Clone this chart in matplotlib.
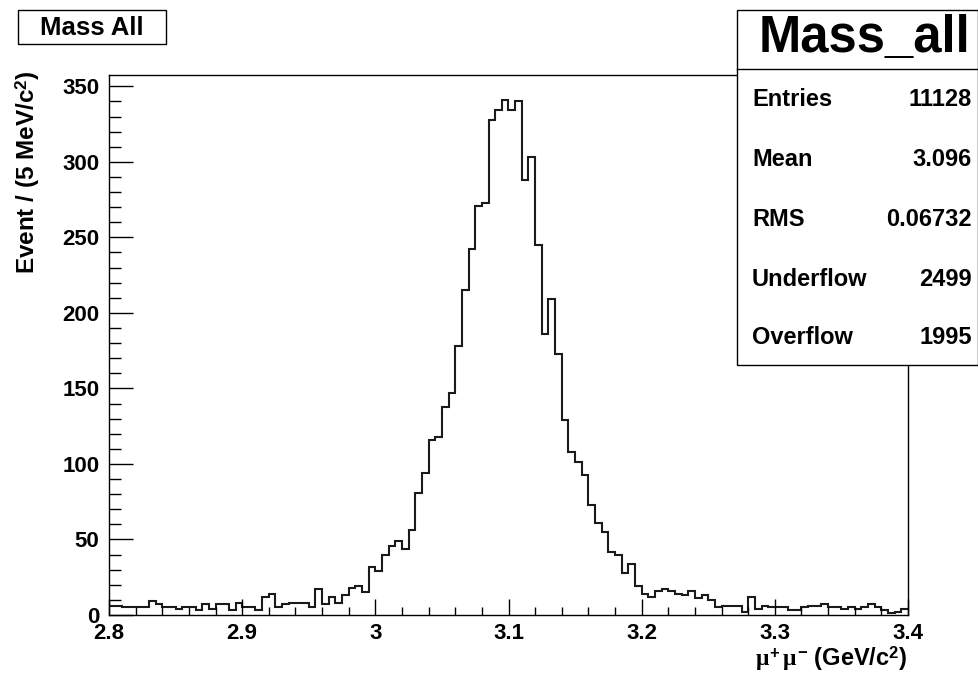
import numpy as np
import matplotlib
matplotlib.use("Agg")
import matplotlib.pyplot as plt
from matplotlib.patches import Rectangle
from matplotlib.ticker import MultipleLocator

plt.rcParams['font.family'] = ['Liberation Sans', 'DejaVu Sans']
plt.rcParams['font.weight'] = 'bold'
plt.rcParams['mathtext.fontset'] = 'custom'
plt.rcParams['mathtext.rm'] = 'Liberation Sans:bold'
plt.rcParams['mathtext.bf'] = 'Liberation Sans:bold'
plt.rcParams['mathtext.sf'] = 'Liberation Sans:bold'
plt.rcParams['mathtext.it'] = 'Liberation Serif'

# ---- data ----
x_min, x_max, n_bins = 2.8, 3.4, 120
counts = [
    6, 6, 5, 5, 5, 5, 9, 7, 5, 5,
    4, 5, 5, 3, 7, 4, 7, 7, 3, 8,
    5, 5, 3, 12, 14, 5, 7, 8, 8, 8,
    5, 17, 7, 12, 8, 13, 18, 19, 15, 32,
    29, 40, 46, 49, 44, 56, 81, 94, 116, 118,
    138, 147, 178, 215, 242, 271, 273, 328, 334, 341,
    334, 340, 288, 303, 245, 186, 209, 173, 129, 108,
    101, 93, 73, 61, 55, 42, 40, 28, 34, 19,
    14, 12, 16, 17, 16, 14, 13, 16, 11, 13,
    10, 5, 6, 6, 6, 2, 12, 4, 6, 5,
    5, 5, 3, 3, 5, 6, 6, 7, 5, 5,
    4, 5, 4, 5, 7, 5, 3, 1, 2, 4,
]
x_ticks = [2.8, 2.9, 3.0, 3.1, 3.2, 3.3, 3.4]
x_tick_labels = ["2.8", "2.9", "3", "3.1", "3.2", "3.3", "3.4"]
y_ticks = [0, 50, 100, 150, 200, 250, 300, 350]
stat_names = ["Entries", "Mean", "RMS", "Underflow", "Overflow"]
stat_values = ["11128", "3.096", "0.06732", "2499", "1995"]
hist_name = "Mass_all"
title = "Mass All"

W, H = 979, 674
fig = plt.figure(figsize=(W / 100, H / 100), dpi=100)
fig.patch.set_facecolor('white')

def fx(px):
    return px / W

def fy(py):
    return 1 - py / H

L, R, T, B = 109, 908, 75, 615
ax = fig.add_axes([fx(L), fy(B), fx(R) - fx(L), fy(T) - fy(B)])

edges = np.linspace(x_min, x_max, n_bins + 1)
ax.stairs(counts, edges, baseline=None, color='#1a1a1a', linewidth=1.5)

ax.set_xlim(x_min, x_max)
ax.set_ylim(0, 357.5)
for s in ax.spines.values():
    s.set_linewidth(1.0)
    s.set_color('black')

ax.set_xticks(x_ticks)
ax.set_xticklabels(x_tick_labels)
ax.set_yticks(y_ticks)
ax.xaxis.set_minor_locator(MultipleLocator(0.02))
ax.yaxis.set_minor_locator(MultipleLocator(10))
ax.tick_params(axis='x', which='major', direction='in', length=11.5, width=1,
               labelsize=16, pad=6, top=False)
ax.tick_params(axis='x', which='minor', direction='in', length=5.8, width=1, top=False)
ax.tick_params(axis='y', which='major', direction='in', length=17.3, width=1,
               labelsize=16, pad=7, right=False)
ax.tick_params(axis='y', which='minor', direction='in', length=8.6, width=1, right=False)
for lab in ax.get_xticklabels() + ax.get_yticklabels():
    lab.set_fontweight('bold')

# axis titles
fig.text(fx(907), fy(659), r"$\mu^{+}\,\mu^{-}$ (GeV/c$^{2}$)", ha='right', va='center',
         fontsize=17, fontweight='bold')
fig.text(fx(28), fy(70), r"Event / (5 MeV/c$^{2}$)", ha='center', va='top',
         rotation=90, fontsize=17.5, fontweight='bold')

# title box
fig.add_artist(Rectangle((fx(18), fy(44)), fx(166) - fx(18), fy(10) - fy(44),
                         transform=fig.transFigure, facecolor='white',
                         edgecolor='black', linewidth=1.0, zorder=10))
fig.text(fx(92), fy(28), title, ha='center', va='center', fontsize=18.5,
         fontweight='bold', zorder=11)

# stats box
bx0, bx1, by0, by1, bsep = 737, 978, 10, 365, 69
fig.add_artist(Rectangle((fx(bx0), fy(by1)), fx(bx1) - fx(bx0), fy(by0) - fy(by1),
                         transform=fig.transFigure, facecolor='white',
                         edgecolor='black', linewidth=1.0, zorder=10))
fig.add_artist(plt.Line2D([fx(bx0), fx(bx1)], [fy(bsep), fy(bsep)],
                          transform=fig.transFigure, color='black', linewidth=1.0,
                          zorder=11))
fig.text(fx(865), fy(38), hist_name, ha='center', va='center', fontsize=36.5,
         fontweight='bold', zorder=12)
row_y = [100, 160, 220, 279, 337]
for name, val, yy in zip(stat_names, stat_values, row_y):
    fig.text(fx(752), fy(yy), name, ha='left', va='center', fontsize=17,
             fontweight='bold', zorder=12)
    fig.text(fx(972), fy(yy), val, ha='right', va='center', fontsize=17,
             fontweight='bold', zorder=12)

fig.savefig("out.png", dpi=100, facecolor='white')
